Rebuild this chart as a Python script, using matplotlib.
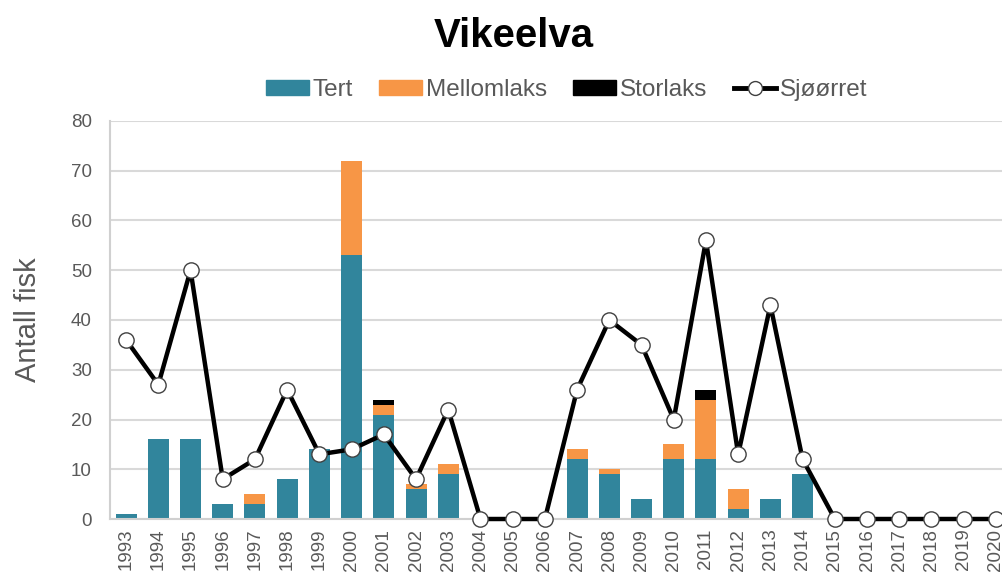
import numpy as np
import matplotlib
matplotlib.use("Agg")
import matplotlib.pyplot as plt
from matplotlib.lines import Line2D
from matplotlib.patches import Patch

plt.rcParams['font.family'] = ['Liberation Sans', 'DejaVu Sans']

years = [str(y) for y in range(1993, 2021)]
tert = [1, 16, 16, 3, 3, 8, 14, 53, 21, 6, 9, 0, 0, 0, 12, 9, 4, 12, 12, 2, 4, 9,
        0, 0, 0, 0, 0, 0]
mellomlaks = [0, 0, 0, 0, 2, 0, 0, 19, 2, 1, 2, 0, 0, 0, 2, 1, 0, 3, 12, 4, 0, 0,
              0, 0, 0, 0, 0, 0]
storlaks = [0, 0, 0, 0, 0, 0, 0, 0, 1, 0, 0, 0, 0, 0, 0, 0, 0, 0, 2, 0, 0, 0,
            0, 0, 0, 0, 0, 0]
sjoorret = [36, 27, 50, 8, 12, 26, 13, 14, 17, 8, 22, 0, 0, 0, 26, 40, 35, 20, 56, 13, 43, 12,
            0, 0, 0, 0, 0, 0]

teal = '#31859C'
orange = '#F79646'
grey = '#595959'

fig = plt.figure(figsize=(10.03, 5.74), dpi=100)
ax = fig.add_axes([110 / 1003, 55 / 574, 902 / 1003, 398 / 574])

x = np.arange(len(years))
tert = np.array(tert)
mellomlaks = np.array(mellomlaks)
storlaks = np.array(storlaks)
w = 0.65
ax.bar(x, tert, w, color=teal, zorder=2)
ax.bar(x, mellomlaks, w, bottom=tert, color=orange, zorder=2)
ax.bar(x, storlaks, w, bottom=tert + mellomlaks, color='black', zorder=2)
ax.plot(x, sjoorret, color='black', lw=3.2, marker='o', ms=11,
        mfc='white', mec='#404040', mew=1, zorder=3, clip_on=False)

ax.set_xlim(-0.5, len(years) - 0.5)
ax.set_ylim(0, 80)
ax.set_yticks(range(0, 81, 10))
ax.set_xticks(x)
ax.set_xticklabels(years, rotation=90)
ax.tick_params(axis='both', colors=grey, labelsize=13.5, length=0)
ax.tick_params(axis='x', pad=7)
ax.tick_params(axis='y', pad=13)
ax.grid(axis='y', color='#d9d9d9', lw=1.5, zorder=0)
for s in ['top', 'right']:
    ax.spines[s].set_visible(False)
for s in ['bottom', 'left']:
    ax.spines[s].set_color('#d0d0d0')
    ax.spines[s].set_linewidth(1.5)

ax.set_ylabel('Antall fisk', color=grey, fontsize=21, labelpad=21)
fig.text(0.512, 0.937, 'Vikeelva', ha='center', va='center',
         fontsize=29, fontweight='bold')

handles = [Patch(color=teal), Patch(color=orange), Patch(color='black'),
           Line2D([], [], color='black', lw=3.5, marker='o', ms=10, mfc='white', mec='#404040')]
fig.legend(handles, ['Tert', 'Mellomlaks', 'Storlaks', 'Sjøørret'], ncol=4,
           loc='center', bbox_to_anchor=(0.565, 0.843), frameon=False,
           fontsize=17.5, labelcolor=grey, handlelength=1.75, handleheight=0.55,
           handletextpad=0.15, columnspacing=1.1)

fig.savefig('out.png', dpi=100)
